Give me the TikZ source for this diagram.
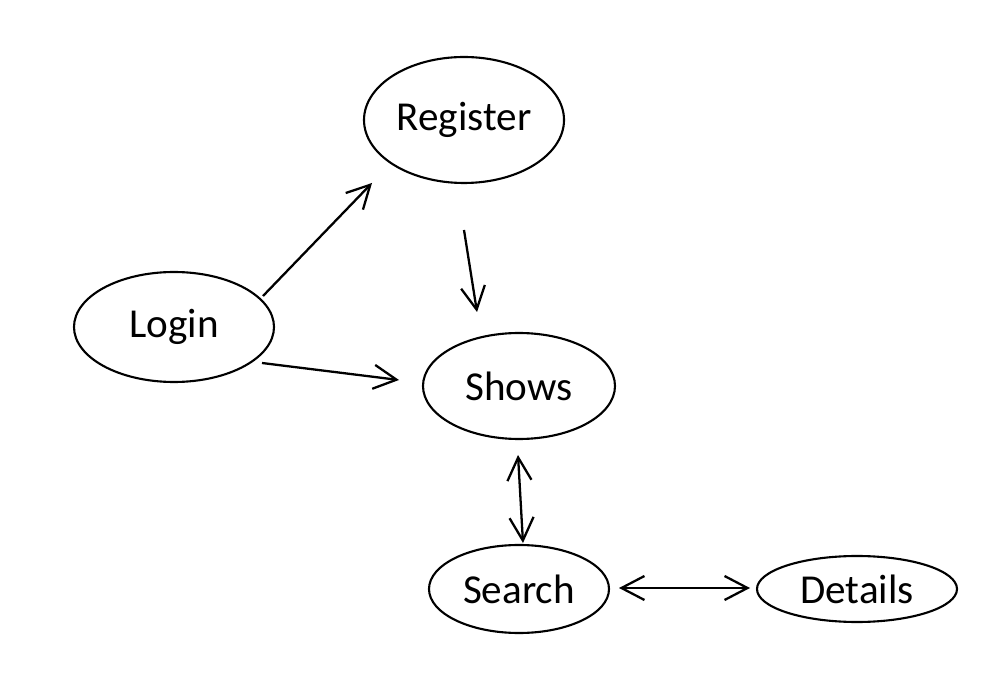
\documentclass[tikz,border=0pt]{standalone}
\usepackage{fontspec}
\setmainfont{Carlito}
\usetikzlibrary{positioning,arrows.meta,shapes.geometric}

\begin{document}
\begin{tikzpicture}[
  every node/.style={font=\fontsize{23.4}{28}\selectfont},
  screen/.style={ellipse, draw=black, line width=1.2pt, inner sep=0pt},
  link/.style={line width=1.3pt, -{Straight Barb[length=4.6mm,width=4.8mm]}},
  both/.style={line width=1.3pt, {Straight Barb[length=4.6mm,width=4.8mm]}-{Straight Barb[length=4.6mm,width=4.8mm]}}
]
\useasboundingbox (0,0) rectangle (20,13.62);

% Seiten
\node[screen, minimum width=4cm, minimum height=2.52cm] (register) at (9.28,11.22) {Register};
\node[screen, minimum width=4cm, minimum height=2.2cm] (login) at (3.48,7.08) {Login};
\node[screen, minimum width=3.84cm, minimum height=2.12cm] (shows) at (10.38,5.9) {Shows};
\node[screen, minimum width=3.6cm, minimum height=1.76cm] (search) at (10.38,1.84) {Search};
\node[screen, minimum width=4cm, minimum height=1.32cm] (details) at (17.14,1.84) {Details};

% Verbindungen
\draw[link] ([shift={(1.78,0.62)}]login.center) -- ([shift={(-1.84,-1.26)}]register.center);
\draw[link] ([shift={(0,-2.2)}]register.center) -- ([shift={(-0.84,1.48)}]shows.center);
\draw[link] ([shift={(1.76,-0.72)}]login.center) -- ([shift={(-2.4,0.12)}]shows.center);
\draw[both] ([shift={(-0.02,-1.38)}]shows.center) -- ([shift={(0.08,0.92)}]search.center);
\draw[both] ([shift={(2.0,0.02)}]search.center) -- ([shift={(-2.14,0.02)}]details.center);
\end{tikzpicture}
\end{document}
